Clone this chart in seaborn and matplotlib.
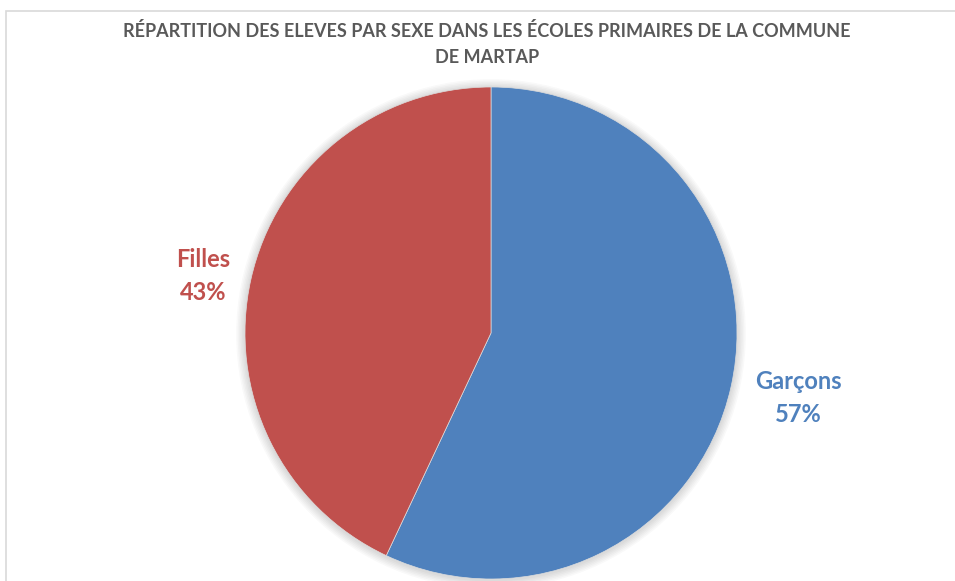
import matplotlib
matplotlib.use("Agg")
import matplotlib.pyplot as plt
import seaborn as sns
import numpy as np
from matplotlib.patches import Rectangle, Circle

categories = ["Garçons", "Filles"]
shares = [57, 43]
colors = ["#4F81BD", "#C0504D"]
title = "RÉPARTITION DES ELEVES PAR SEXE DANS LES ÉCOLES PRIMAIRES DE LA COMMUNE\nDE MARTAP"

sns.set_theme(style="white")
plt.rcParams["font.family"] = ["Lato", "DejaVu Sans"]

W, H = 955, 581
fig = plt.figure(figsize=(W / 100, H / 100), dpi=100)
fig.patch.set_facecolor("white")

# chart frame
fig.patches.append(Rectangle((6 / W, -0.1), 1.1, (H - 11) / H + 0.1, transform=fig.transFigure,
                             fill=False, edgecolor="#D9D9D9", linewidth=1.2))

cx, cy, r = 491, 333, 246
ax = fig.add_axes([(cx - r) / W, (H - cy - r) / H, 2 * r / W, 2 * r / H])

# soft shadow around the pie
for k in range(6):
    ax.add_patch(Circle((0, -0.004), 1 + 0.006 * (k + 1), facecolor="black", edgecolor="none",
                        alpha=0.025, zorder=0, clip_on=False))

labels = [f"{c}\n{v}%" for c, v in zip(categories, shares)]
wedges, texts = ax.pie(shares, labels=labels, colors=colors, startangle=90, counterclock=False,
                       labeldistance=1.25, radius=1,
                       wedgeprops=dict(linewidth=0.5, edgecolor="#DDDDDD", zorder=2),
                       textprops=dict(fontsize=17, fontweight="bold", ha="center", va="center",
                                      linespacing=1.5))
label_dist = [1.28, 1.2]
label_dy = [0.015, -0.03]
for w, t, c, d, dy in zip(wedges, texts, colors, label_dist, label_dy):
    ang = np.deg2rad((w.theta1 + w.theta2) / 2)
    t.set_position((d * np.cos(ang), d * np.sin(ang) + dy))
    t.set_color(c)
    t.set_horizontalalignment("center")
    t.set_clip_on(False)

ax.set_xlim(-1, 1)
ax.set_ylim(-1, 1)
ax.set_aspect("equal")
ax.axis("off")

fig.text(487 / W, 1 - 44 / H, title, ha="center", va="center", fontsize=13, fontweight="bold",
         color="#595959", linespacing=1.6)

fig.savefig("out.png", dpi=100, facecolor="white")
